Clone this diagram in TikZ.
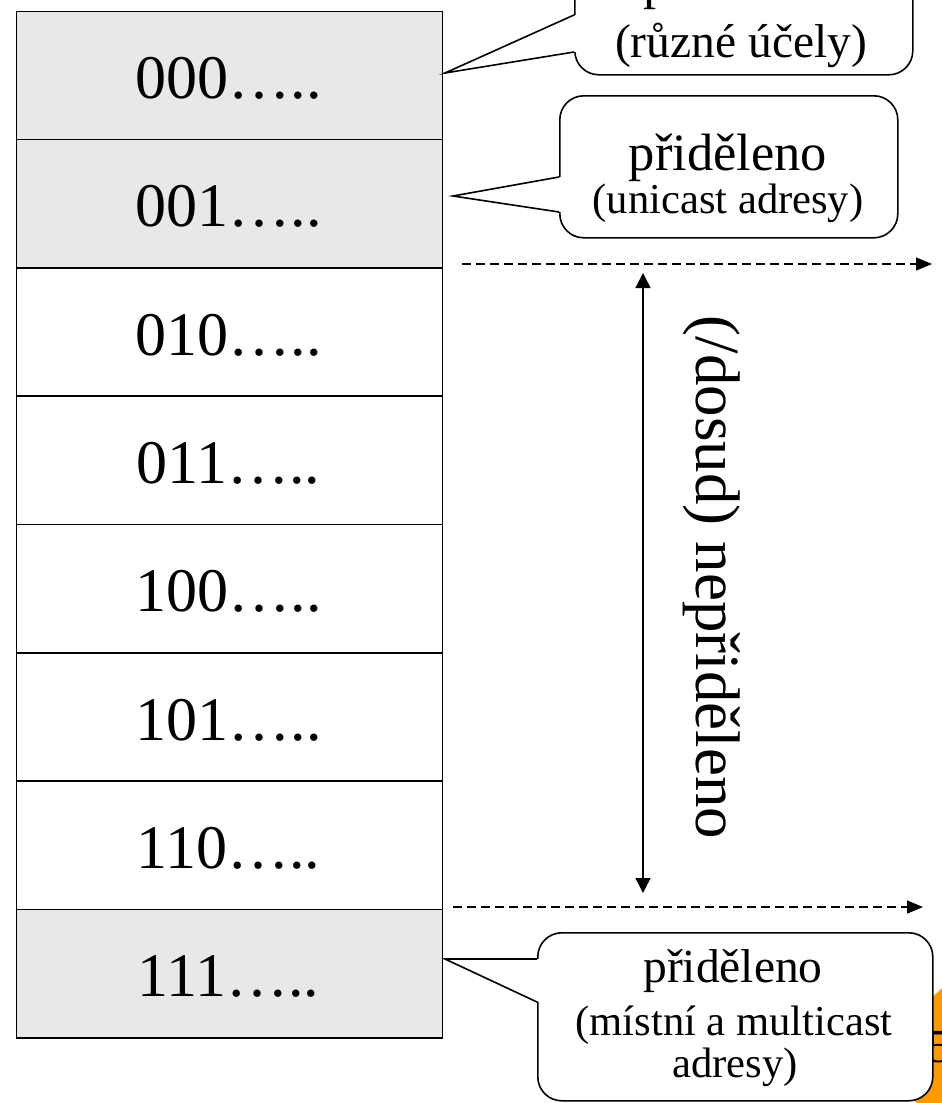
\documentclass[tikz,border=0pt]{standalone}
\usepackage{fontspec}
\setmainfont{Liberation Serif}
\usetikzlibrary{arrows.meta,calc}
\definecolor{rowgray}{HTML}{E8E8E8}
\definecolor{slideorange}{HTML}{FF9900}
\newcommand\fRow{\fontsize{62}{62}\selectfont}
\newcommand\fVert{\fontsize{63}{63}\selectfont}
\newcommand\fBig{\fontsize{52.5}{52.5}\selectfont}
\newcommand\fMid{\fontsize{47.5}{47.5}\selectfont}
\newcommand\fSmall{\fontsize{42.6}{42.6}\selectfont}
\tikzset{
  row/.style={draw, line width=1.6pt, minimum width=426pt, minimum height=128.3pt, inner sep=0pt, anchor=north west},
  lbl/.style={font=\fRow, inner sep=0pt, anchor=base},
  callout/.style={draw, fill=white, line width=1.6pt, rounded corners=24pt, inner sep=0pt, anchor=north west},
  ptr/.style={line width=1.6pt, line join=miter},
  ctext/.style={inner sep=0pt, anchor=base},
  dasharrow/.style={line width=1.4pt, dash pattern=on 9pt off 5pt, -{Triangle[length=16pt,width=13pt]}},
  dblarrow/.style={line width=1.4pt, {Triangle[length=15pt,width=15pt]}-{Triangle[length=15pt,width=15pt]}},
  vtext/.style={font=\fVert, inner sep=0pt, anchor=base, rotate=-90}
}
\begin{document}
\begin{tikzpicture}[x=1pt,y=-1pt]
\useasboundingbox (0,0) rectangle (942,1103);
\clip (0,0) rectangle (942,1103);

% address rows
\foreach \i/\lab/\fc in {0/000/rowgray,1/001/rowgray,2/010/white,3/011/white,4/100/white,5/101/white,6/110/white,7/111/rowgray}{
  \node[row, fill=\fc] (r\i) at (15.5,{10.5+\i*128.3}) {};
  \node[lbl] (t\i) at (228.5,{10.5+\i*128.3+88}) {\lab…..};
}

% callout 1 (top, partly cut off)
\node[callout, minimum width=338pt, minimum height=134pt] (c1) at (574,-60) {};
\coordinate (c1a) at (574,15);
\coordinate (c1b) at (574,52);
\coordinate (c1tip) at (445,73);
\fill[white] ($(c1a)+(2,0)$) -- (c1tip) -- ($(c1b)+(2,0)$) -- cycle;
\draw[ptr] (c1a) -- (c1tip) -- (c1b);
\node[ctext, font=\fBig] (c1t1) at (743,-2) {přiděleno};
\node[ctext, font=\fMid] (c1t2) at (741,57) {(různé účely)};

% callout 2
\node[callout, minimum width=338pt, minimum height=142pt] (c2) at (559,95) {};
\coordinate (c2a) at (559,177);
\coordinate (c2b) at (559,212);
\coordinate (c2tip) at (453,196);
\fill[white] ($(c2a)+(2,0)$) -- (c2tip) -- ($(c2b)+(2,0)$) -- cycle;
\draw[ptr] (c2a) -- (c2tip) -- (c2b);
\node[ctext, font=\fBig] (c2t1) at (728,170) {přiděleno};
\node[ctext, font=\fSmall] (c2t2) at (728,213) {(unicast adresy)};

% dashed boundaries
\coordinate (d1s) at (462,264);
\coordinate (d1e) at (932,264);
\draw[dasharrow] (d1s) -- (d1e);
\coordinate (d2s) at (453,907);
\coordinate (d2e) at (923,907);
\draw[dasharrow] (d2s) -- (d2e);

% vertical extent arrow and label
\coordinate (v1) at (643,273);
\coordinate (v2) at (643,893);
\draw[dblarrow] (v1) -- (v2);
\node[vtext] (vt) at (696,577.5) {(/dosud) nepřiděleno};

% orange slide-number badge behind callout 3
\fill[slideorange] (1002,1062) circle[radius=95pt];
\node[ctext, font=\fMid, anchor=base west] (num) at (928,1062) {5};

% callout 3
\node[callout, minimum width=395pt, minimum height=168pt] (c3) at (537,932) {};
\coordinate (c3a) at (537,959);
\coordinate (c3b) at (537,1002);
\coordinate (c3tip) at (445,959);
\fill[white] ($(c3a)+(2,0)$) -- (c3tip) -- ($(c3b)+(2,0)$) -- cycle;
\draw[ptr] (c3a) -- (c3tip) -- (c3b);
\node[ctext, font=\fMid] (c3t1) at (733,982) {přiděleno};
\node[ctext, font=\fSmall] (c3t2) at (734,1035) {(místní a multicast};
\node[ctext, font=\fSmall] (c3t3) at (735,1077) {adresy)};
\end{tikzpicture}
\end{document}
